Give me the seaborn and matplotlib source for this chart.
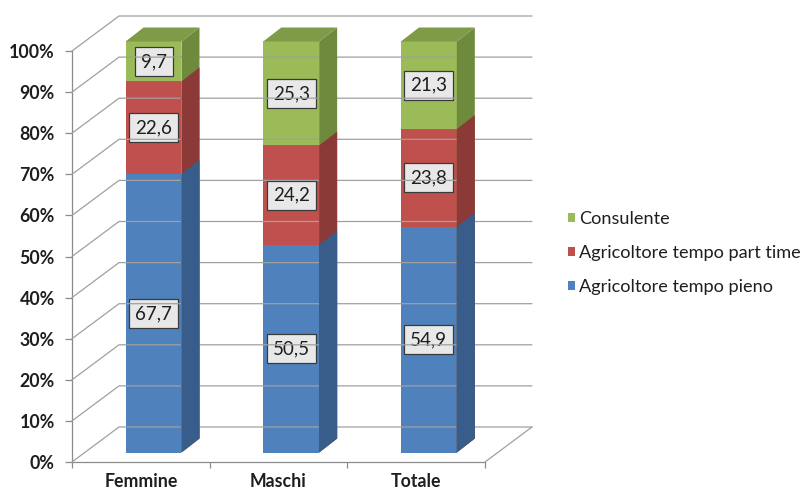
import numpy as np
import pandas as pd
import matplotlib
matplotlib.use("Agg")
import matplotlib.pyplot as plt
import matplotlib.transforms as mtransforms
from matplotlib.patches import Polygon, Patch
from matplotlib.lines import Line2D
import seaborn as sns

# ---- data -------------------------------------------------------------
categories = ["Femmine", "Maschi", "Totale"]
tempo_pieno = [67.7, 50.5, 54.9]
part_time = [22.6, 24.2, 23.8]
consulente = [9.7, 25.3, 21.3]
series_names = ["Agricoltore tempo pieno", "Agricoltore tempo part time", "Consulente"]
y_ticks = [0, 10, 20, 30, 40, 50, 60, 70, 80, 90, 100]
y_tick_labels = [f"{t}%" for t in y_ticks]

# ---- style ------------------------------------------------------------
sns.set_style("white")
plt.rcParams["font.family"] = ["Lato", "DejaVu Sans"]

# (front, side, top) colours per series, bottom of the stack first
palette = [
    ("#4F81BD", "#385D8A", "#41699B"),
    ("#C0504D", "#8C3A37", "#A44542"),
    ("#9BBB59", "#6E8A3D", "#7E9B48"),
]
GRID = "#a0a0a0"
AXIS = "#8a8a8a"
TEXT = "#1e1e1e"

# pseudo-3D geometry (pixel offsets)
FLOOR_DEPTH = (47.0, 35.0)
BAR_SHIFT = (12.7, 9.5)
BAR_DEPTH = (18.0, 14.0)
BAR_WIDTH = 0.406

W, H = 806, 494
fig = plt.figure(figsize=(W / 100, H / 100), dpi=100)
ax = fig.add_axes([72 / W, (H - 462) / H, (485 - 72) / W, 411 / H])

values = np.array([tempo_pieno, part_time, consulente])
tops = values.cumsum(axis=0)
bases = tops - values

bar_trans = mtransforms.offset_copy(ax.transData, fig=fig,
                                    x=BAR_SHIFT[0], y=BAR_SHIFT[1], units="dots")

# front faces: cumulative heights, drawn from the top of the stack down
layer_patches = []
for k in reversed(range(len(series_names))):
    front = palette[k][0]
    df = pd.DataFrame({"categoria": categories, "cumulato": tops[k]})
    n0 = len(ax.patches)
    sns.barplot(data=df, x="categoria", y="cumulato", color=front, saturation=1,
                width=BAR_WIDTH, errorbar=None, linewidth=0, ax=ax)
    new = ax.patches[n0:]
    for p in new:
        p.set_transform(bar_trans)
        p.set_clip_on(False)
        p.set_zorder(3 + 2 * (len(series_names) - k))
    layer_patches.append((k, new))

ax.set_xlim(-0.5, 2.5)
ax.set_ylim(0, 100)
ax.set_xlabel("")
ax.set_ylabel("")

# axes, ticks, labels
for s in ("top", "right"):
    ax.spines[s].set_visible(False)
for s in ("left", "bottom"):
    ax.spines[s].set_color(AXIS)
    ax.spines[s].set_linewidth(0.9)
ax.set_yticks(y_ticks)
ax.set_yticklabels(y_tick_labels, fontsize=12.8, fontweight="bold", color=TEXT)
ax.set_xticks(range(len(categories)))
ax.set_xticklabels(categories, fontsize=12.8, fontweight="bold", color=TEXT)
ax.set_xticks([-0.5, 0.5, 1.5, 2.5], minor=True)
ax.tick_params(axis="y", direction="out", length=5, width=0.9, color=AXIS, pad=7.5, left=True)
ax.tick_params(axis="x", which="major", length=0, pad=8)
ax.tick_params(axis="x", which="minor", direction="out", length=4, width=0.9, color=AXIS, bottom=True)
ax.grid(False)


def disp(x, y, dx=0.0, dy=0.0):
    px, py = ax.transData.transform((x, y))
    return (px + dx, py + dy)


ident = mtransforms.IdentityTransform()

# walls: diagonal lines on the side wall, horizontals on the back wall
x_left, x_right = ax.get_xlim()
fd = FLOOR_DEPTH
for v in y_ticks:
    a = disp(x_left, v)
    b = disp(x_left, v, *fd)
    c = disp(x_right, v, *fd)
    fig.add_artist(Line2D([a[0], b[0], c[0]], [a[1], b[1], c[1]],
                          color=GRID, lw=0.9, transform=ident, zorder=1))
a = disp(x_right, 0)
b = disp(x_right, 0, *fd)
fig.add_artist(Line2D([a[0], b[0]], [a[1], b[1]], color=GRID, lw=0.9,
                      transform=ident, zorder=1))

# side and top faces of the bars
fs = BAR_SHIFT
bk = (BAR_SHIFT[0] + BAR_DEPTH[0], BAR_SHIFT[1] + BAR_DEPTH[1])
for k, patches in layer_patches:
    _, side_c, top_c = palette[k]
    for p in patches:
        x0, w, h = p.get_x(), p.get_width(), p.get_height()
        z = p.get_zorder()
        side = [disp(x0 + w, 0, *fs), disp(x0 + w, h, *fs),
                disp(x0 + w, h, *bk), disp(x0 + w, 0, *bk)]
        poly = Polygon(side, closed=True, facecolor=side_c, edgecolor="none",
                       transform=ident, zorder=z + 1)
        fig.add_artist(poly)
        if k == len(series_names) - 1:
            top = [disp(x0, h, *fs), disp(x0 + w, h, *fs),
                   disp(x0 + w, h, *bk), disp(x0, h, *bk)]
            fig.add_artist(Polygon(top, closed=True, facecolor=top_c,
                                   edgecolor="none", transform=ident, zorder=z + 1))

# value labels in boxes
for k in range(len(series_names)):
    for i, cat in enumerate(categories):
        v = values[k, i]
        ax.text(i, bases[k, i] + v / 2, f"{v:.1f}".replace(".", ","),
                transform=bar_trans, ha="center", va="center", fontsize=13.5,
                color=TEXT, zorder=20, clip_on=False,
                bbox=dict(boxstyle="square,pad=0.32", facecolor="#e8e8e8",
                          edgecolor="#3a3a3a", linewidth=0.9))

# legend
handles = [Patch(facecolor=palette[k][0], edgecolor="none") for k in (2, 1, 0)]
labels = [series_names[k] for k in (2, 1, 0)]
fig.legend(handles, labels, loc="upper left",
           bbox_to_anchor=(568 / W, (H - 211) / H), frameon=False,
           fontsize=13.1, handlelength=0.4, handleheight=0.4, handletextpad=0.2,
           labelspacing=1.0, borderpad=0, borderaxespad=0, labelcolor=TEXT)

fig.savefig("out.png", dpi=100)
